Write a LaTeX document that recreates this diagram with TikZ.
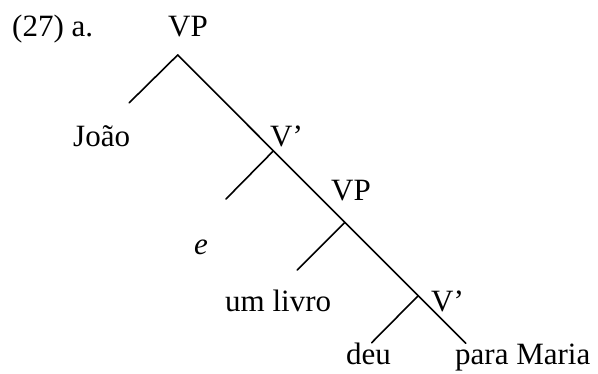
\documentclass[tikz,border=0pt]{standalone}
\usepackage{fontspec}
\setmainfont{Liberation Serif}
\begin{document}
\begin{tikzpicture}[x=1pt,y=-1pt,
  lbl/.style={anchor=base west,inner sep=0pt,font=\fontsize{31}{36}\selectfont},
  edge/.style={line width=1.6pt,line cap=round}]
\useasboundingbox (0,0) rectangle (598,374);
% labels
\node[lbl] (num)   at (12,36.5)  {(27) a.};
\node[lbl] (vp1)   at (168,36.5) {VP};
\node[lbl] (joao)  at (73,146.5) {João};
\node[lbl] (vb1)   at (270,146.5) {V’};
\node[lbl] (vp2)   at (331,201)  {VP};
\node[lbl] (e)     at (194,255)  {\itshape e};
\node[lbl] (livro) at (225,311.5) {um livro};
\node[lbl] (vb2)   at (431,311.5) {V’};
\node[lbl] (deu)   at (346,365)  {deu};
\node[lbl] (maria) at (455,365)  {para Maria};
% tree points
\coordinate (p0) at (177.7,55);
\coordinate (l0) at (129.3,102.7);
\coordinate (p1) at (272.8,151.5);
\coordinate (l1) at (226,199);
\coordinate (p2) at (344.5,222.8);
\coordinate (l2) at (297.3,270);
\coordinate (p3) at (418.3,295.6);
\coordinate (l3) at (371.7,342.7);
\coordinate (pe) at (465.7,343.3);
% spine and left branches
\draw[edge] (p0) -- (pe);
\draw[edge] (p0) -- (l0);
\draw[edge] (p1) -- (l1);
\draw[edge] (p2) -- (l2);
\draw[edge] (p3) -- (l3);
\end{tikzpicture}
\end{document}
